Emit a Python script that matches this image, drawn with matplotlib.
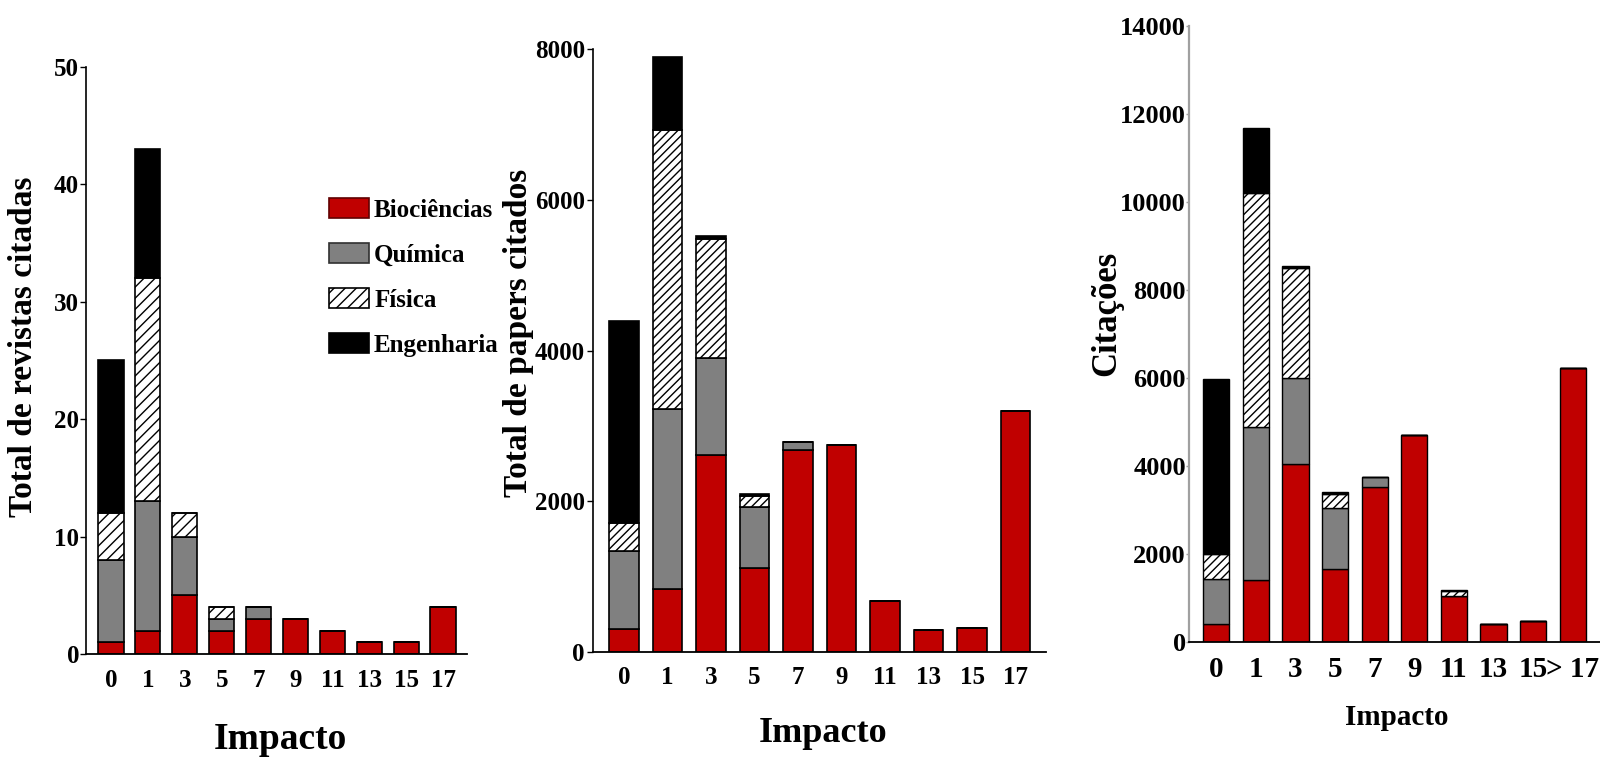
import matplotlib
matplotlib.use("Agg")
import matplotlib.pyplot as plt
from matplotlib.patches import Patch

plt.rcParams['font.family'] = ['Liberation Serif', 'DejaVu Serif']
plt.rcParams['font.weight'] = 'bold'
plt.rcParams['axes.labelweight'] = 'bold'
plt.rcParams['hatch.linewidth'] = 1.0

# ---------------- data ----------------
impact = ['0', '1', '3', '5', '7', '9', '11', '13', '15', '17']
impact_last = ['0', '1', '3', '5', '7', '9', '11', '13', '15', '> 17']
series_names = ['Biociências', 'Química', 'Física', 'Engenharia']

# Panel 1: total de revistas citadas
rev_bio = [1, 2, 5, 2, 3, 3, 2, 1, 1, 4]
rev_qui = [7, 11, 5, 1, 1, 0, 0, 0, 0, 0]
rev_fis = [4, 19, 2, 1, 0, 0, 0, 0, 0, 0]
rev_eng = [13, 11, 0, 0, 0, 0, 0, 0, 0, 0]

# Panel 2: total de papers citados
pap_bio = [305, 835, 2620, 1118, 2679, 2753, 684, 300, 318, 3200]
pap_qui = [1034, 2387, 1287, 809, 114, 0, 0, 0, 0, 0]
pap_fis = [376, 3704, 1574, 142, 0, 0, 0, 0, 0, 0]
pap_eng = [2678, 964, 36, 35, 0, 0, 0, 0, 0, 0]

# Panel 3: citações
cit_bio = [416, 1408, 4058, 1658, 3528, 4717, 1052, 416, 491, 6240]
cit_qui = [1022, 3490, 1942, 1386, 235, 0, 0, 0, 0, 0]
cit_fis = [575, 5316, 2510, 325, 0, 0, 106, 0, 0, 0]
cit_eng = [3968, 1476, 46, 53, 0, 0, 37, 0, 0, 0]

RED = '#c00000'
GRAY = '#808080'
facecolors = [RED, GRAY, 'white', 'black']

W, H = 1600, 759
fig = plt.figure(figsize=(W / 100, H / 100), dpi=100)


def add_axes(left, right, top, bottom):
    return fig.add_axes([left / W, (H - bottom) / H, (right - left) / W, (bottom - top) / H])


def stacked(ax, series, width, hatch, lw):
    x = list(range(len(impact)))
    base = [0] * len(x)
    for i, vals in enumerate(series):
        ax.bar(x, vals, width, bottom=base, color=facecolors[i],
               edgecolor='black', linewidth=lw,
               hatch=(hatch if i == 2 else None), zorder=2)
        base = [b + v for b, v in zip(base, vals)]


def style_axes(ax, spine_color='black'):
    for s in ('top', 'right'):
        ax.spines[s].set_visible(False)
    ax.spines['left'].set_color(spine_color)
    ax.spines['left'].set_linewidth(1.2)
    ax.spines['bottom'].set_linewidth(1.3)
    ax.tick_params(axis='x', length=0)
    ax.tick_params(axis='y', length=4, width=1, color=spine_color, direction='out')


# ---- Panel 1 ----
ax1 = add_axes(86, 467, 66.7, 654)
stacked(ax1, [rev_bio, rev_qui, rev_fis, rev_eng], 0.68, '///', 1.2)
ax1.set_xlim(-0.678, 9.65)
ax1.set_ylim(0, 50)
ax1.set_yticks([0, 10, 20, 30, 40, 50])
style_axes(ax1)
ax1.set_xticks(range(len(impact)))
ax1.set_xticklabels(impact, fontsize=18)
ax1.tick_params(axis='x', pad=11)
ax1.tick_params(axis='y', labelsize=18, pad=1)
ax1.set_ylabel('Total de revistas citadas', fontsize=24, va='center')
ax1.yaxis.set_label_coords(-0.165, 0.523)
ax1.set_xlabel('Impacto', fontsize=27, va='center')
ax1.xaxis.set_label_coords(0.509, -0.145)

handles = [Patch(facecolor=RED, edgecolor='#600000', linewidth=1.2),
           Patch(facecolor=GRAY, edgecolor='#303030', linewidth=1.2),
           Patch(facecolor='white', edgecolor='black', hatch='///', linewidth=1.2),
           Patch(facecolor='black', edgecolor='black', linewidth=1.2)]
ax1.legend(handles, series_names, loc='upper left', bbox_to_anchor=(0.638, 0.777),
           frameon=False, fontsize=18, handlelength=1.6, handleheight=0.9,
           handletextpad=0.2, labelspacing=0.84, borderpad=0, borderaxespad=0)

# ---- Panel 2 ----
ax2 = add_axes(593.3, 1045.7, 49, 652.3)
stacked(ax2, [pap_bio, pap_qui, pap_fis, pap_eng], 0.68, '////', 1.2)
ax2.set_xlim(-0.70, 9.69)
ax2.set_ylim(0, 8000)
ax2.set_yticks([0, 2000, 4000, 6000, 8000])
style_axes(ax2)
ax2.set_xticks(range(len(impact)))
ax2.set_xticklabels(impact, fontsize=18)
ax2.tick_params(axis='x', pad=10)
ax2.tick_params(axis='y', labelsize=18, pad=2)
ax2.set_ylabel('Total de papers citados', fontsize=24, va='center')
ax2.yaxis.set_label_coords(-0.166, 0.529)
ax2.set_xlabel('Impacto', fontsize=26, va='center')
ax2.xaxis.set_label_coords(0.508, -0.134)

# ---- Panel 3 ----
ax3 = add_axes(1189.3, 1600, 26, 642.3)
stacked(ax3, [cit_bio, cit_qui, cit_fis, cit_eng], 0.66, '////', 1.0)
ax3.set_xlim(-0.68, 9.69)
ax3.set_ylim(0, 14000)
ax3.set_yticks(list(range(0, 14001, 2000)))
style_axes(ax3, spine_color='#a0a0a0')
ax3.spines['left'].set_linewidth(1.6)
ax3.set_xticks(range(len(impact_last)))
ax3.set_xticklabels(impact_last, fontsize=21)
ax3.tick_params(axis='x', pad=10)
ax3.tick_params(axis='y', labelsize=19, pad=0.5, length=2)
ax3.set_ylabel('Citações', fontsize=25, va='center')
ax3.yaxis.set_label_coords(-0.20, 0.534)
ax3.set_xlabel('Impacto', fontsize=21, va='center')
ax3.xaxis.set_label_coords(0.506, -0.122)

fig.savefig('out.png', dpi=100)
